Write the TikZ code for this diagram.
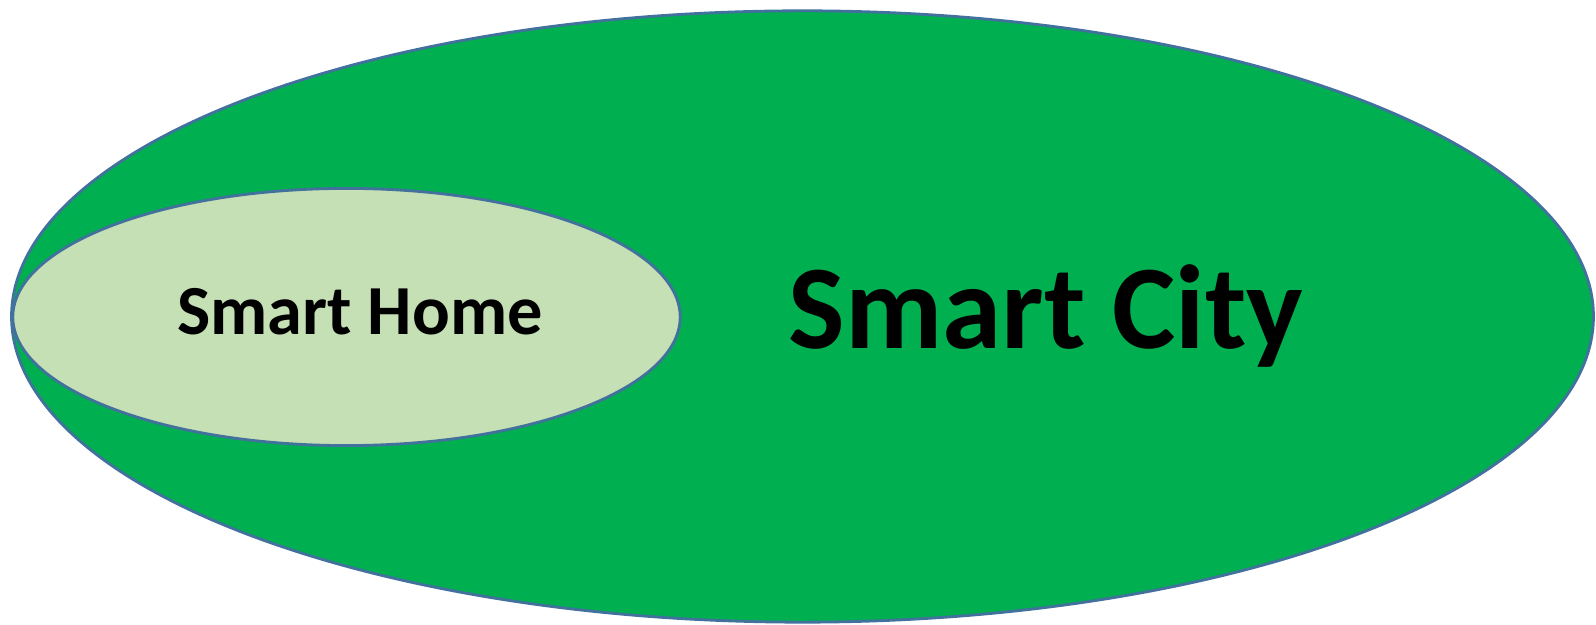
\documentclass[tikz,border=0pt]{standalone}
\usepackage{fontspec}
\setmainfont{Carlito}
\usetikzlibrary{shapes.geometric}
\definecolor{citygreen}{HTML}{00B050}
\definecolor{homegreen}{HTML}{C5E0B4}
\definecolor{rimblue}{HTML}{41719C}
\tikzset{
	zone/.style={ellipse, draw=rimblue, line width=0.8pt, inner sep=0pt, outer sep=0pt},
	zonelabel/.style={anchor=base, font=\bfseries, inner sep=0pt}
}

\begin{document}
\begin{tikzpicture}[x=0.01cm, y=-0.01cm]
	\useasboundingbox (0,0) rectangle (1596,625);
	%ELLIPSES
	\node[zone, fill=citygreen, minimum width=15.81cm, minimum height=6.11cm] (city) at (802.5,316.5) {};
	\node[zone, fill=homegreen, minimum width=6.67cm, minimum height=2.57cm] (home) at (346.5,317) {};
	
	%LABELS
	\node[zonelabel] (homelabel) at (360,335) {\fontsize{20}{24}\selectfont Smart Home};
	\node[zonelabel] (citylabel) at (1046,349) {\fontsize{34}{40}\selectfont Smart City};
\end{tikzpicture}
\end{document}
